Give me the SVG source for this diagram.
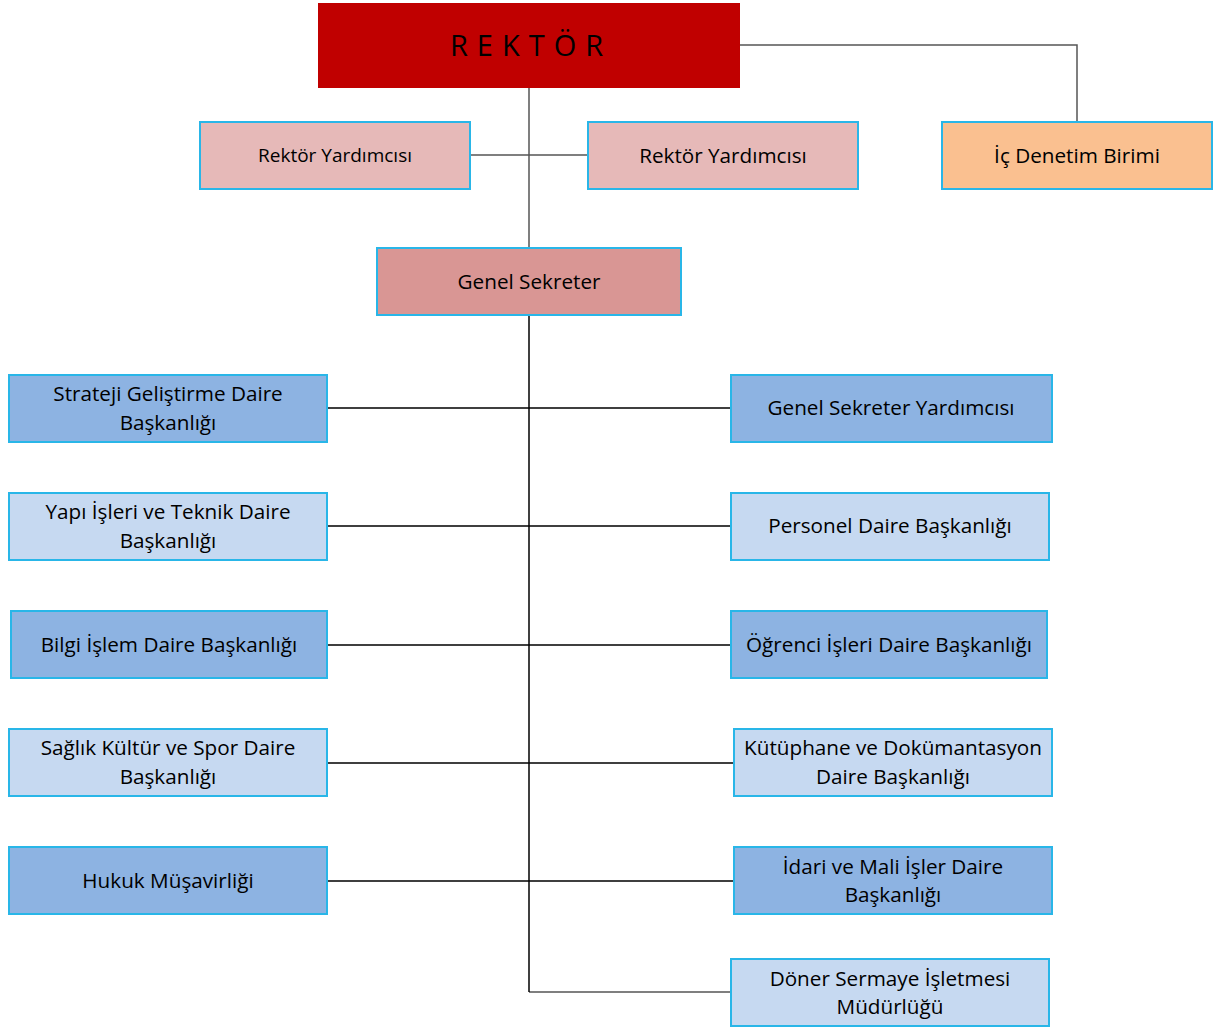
<svg xmlns="http://www.w3.org/2000/svg" width="1214" height="1027" viewBox="0 0 1214 1027">
<style>
.box{stroke:#29B6E8;stroke-width:2}
.dark{fill:#8DB3E2}
.light{fill:#C6D9F1}
.pink{fill:#E6B9B8}
text{font-family:"Open Sans","Noto Sans","Liberation Sans",sans-serif;font-size:20.7px;fill:#000;text-anchor:middle}
.c{fill:none;stroke:#000;stroke-width:1.5}
.g{fill:none;stroke:#555;stroke-width:1.5}
</style>
<g id="connectors">
<path class="g" d="M529 88V248M470 155H588M740 45H1077V122M529 992H731"/>
<path class="c" d="M529 315V992" stroke-width="2"/>
<path class="c" d="M327 408H731M327 526H731M327 645H731M327 763H734M327 881H734"/>
</g>
<g id="rektor"><rect x="318" y="3" width="422" height="85" fill="#C00000"/><text x="531" y="56" style="font-size:29px;letter-spacing:9px">REKTÖR</text></g>
<g id="ry1"><rect class="box pink" x="200" y="122" width="270" height="67"/><text x="335" y="162" style="font-size:19px">Rektör Yardımcısı</text></g>
<g id="ry2"><rect class="box pink" x="588" y="122" width="270" height="67"/><text x="723" y="163">Rektör Yardımcısı</text></g>
<g id="icdenetim"><rect class="box" x="942" y="122" width="270" height="67" fill="#FAC090"/><text x="1077" y="163">İç Denetim Birimi</text></g>
<g id="gensek"><rect class="box" x="377" y="248" width="304" height="67" fill="#D99694"/><text x="529" y="289">Genel Sekreter</text></g>
<g id="strateji"><rect class="box dark" x="9" y="375" width="318" height="67"/><text x="168" y="401">Strateji Geliştirme Daire</text><text x="168" y="430">Başkanlığı</text></g>
<g id="yapi"><rect class="box light" x="9" y="493" width="318" height="67"/><text x="168" y="519">Yapı İşleri ve Teknik Daire</text><text x="168" y="548">Başkanlığı</text></g>
<g id="bilgi"><rect class="box dark" x="11" y="611" width="316" height="67"/><text x="169" y="652">Bilgi İşlem Daire Başkanlığı</text></g>
<g id="saglik"><rect class="box light" x="9" y="729" width="318" height="67"/><text x="168" y="755">Sağlık Kültür ve Spor Daire</text><text x="168" y="784">Başkanlığı</text></g>
<g id="hukuk"><rect class="box dark" x="9" y="847" width="318" height="67"/><text x="168" y="888">Hukuk Müşavirliği</text></g>
<g id="gsy"><rect class="box dark" x="731" y="375" width="321" height="67"/><text x="891" y="415">Genel Sekreter Yardımcısı</text></g>
<g id="personel"><rect class="box light" x="731" y="493" width="318" height="67"/><text x="890" y="533">Personel Daire Başkanlığı</text></g>
<g id="ogrenci"><rect class="box dark" x="731" y="611" width="316" height="67"/><text x="889" y="652">Öğrenci İşleri Daire Başkanlığı</text></g>
<g id="kutuphane"><rect class="box light" x="734" y="729" width="318" height="67"/><text x="893" y="755">Kütüphane ve Dokümantasyon</text><text x="893" y="784">Daire Başkanlığı</text></g>
<g id="idari"><rect class="box dark" x="734" y="847" width="318" height="67"/><text x="893" y="874">İdari ve Mali İşler Daire</text><text x="893" y="902">Başkanlığı</text></g>
<g id="doner"><rect class="box light" x="731" y="959" width="318" height="67"/><text x="890" y="986">Döner Sermaye İşletmesi</text><text x="890" y="1014">Müdürlüğü</text></g>
</svg>
